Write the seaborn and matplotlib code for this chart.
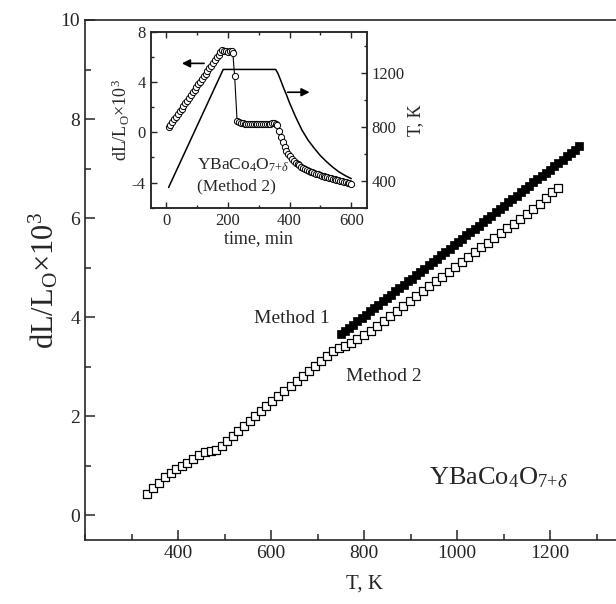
import matplotlib
matplotlib.use("Agg")
import matplotlib.pyplot as plt
from matplotlib.ticker import MultipleLocator
import seaborn as sns
import pandas as pd

# ---------------- data ----------------
# Method 1 (filled squares)
T1 = [750, 759, 768, 777, 786, 795, 804, 813, 822, 831, 840, 849, 858, 867, 876, 885,
      894, 903, 912, 921, 930, 939, 948, 957, 966, 975, 984, 993, 1002, 1011, 1020, 1029,
      1038, 1047, 1056, 1065, 1074, 1083, 1092, 1101, 1110, 1119, 1128, 1137, 1146, 1155,
      1164, 1173, 1182, 1191, 1200, 1209, 1218, 1227, 1236, 1245, 1254, 1263]
D1 = [3.65, 3.72, 3.78, 3.85, 3.92, 3.98, 4.05, 4.12, 4.18, 4.25, 4.32, 4.38, 4.45, 4.52,
      4.58, 4.65, 4.72, 4.78, 4.85, 4.92, 4.98, 5.05, 5.12, 5.18, 5.25, 5.32, 5.38, 5.45,
      5.52, 5.58, 5.65, 5.72, 5.78, 5.85, 5.92, 5.98, 6.05, 6.12, 6.18, 6.25, 6.32, 6.38,
      6.45, 6.52, 6.58, 6.65, 6.72, 6.78, 6.85, 6.92, 6.98, 7.05, 7.12, 7.18, 7.25, 7.32,
      7.38, 7.45]

# Method 2 (open squares)
T2 = [333, 347, 360, 372, 384, 396, 408, 420, 432, 445, 458, 470, 482, 494, 506, 518, 530,
      542, 554, 566, 578, 590, 603, 616, 629, 642, 655, 668, 681, 694, 707, 720, 733, 746,
      759, 772, 786, 800, 814, 828, 842, 856, 870, 884, 898, 912, 926, 940, 954, 968, 982,
      996, 1010, 1024, 1038, 1052, 1066, 1080, 1094, 1108, 1122, 1136, 1150, 1164, 1178,
      1192, 1205, 1217]
D2 = [0.42, 0.55, 0.66, 0.77, 0.86, 0.93, 1.00, 1.06, 1.13, 1.21, 1.27, 1.29, 1.32, 1.40,
      1.50, 1.60, 1.70, 1.80, 1.90, 2.00, 2.10, 2.20, 2.30, 2.41, 2.51, 2.61, 2.71, 2.82,
      2.92, 3.02, 3.12, 3.22, 3.32, 3.38, 3.42, 3.47, 3.55, 3.64, 3.73, 3.83, 3.93, 4.03,
      4.13, 4.23, 4.33, 4.43, 4.53, 4.63, 4.72, 4.82, 4.92, 5.02, 5.11, 5.21, 5.31, 5.41,
      5.50, 5.60, 5.70, 5.80, 5.89, 5.98, 6.08, 6.18, 6.29, 6.41, 6.52, 6.60]

# Inset: dilatometry vs time (Method 2)
t_in = [8, 14, 20, 26, 32, 38, 44, 50, 56, 62, 68, 74, 80, 86, 92, 98, 104, 110, 116, 122,
        128, 134, 140, 146, 152, 158, 164, 170, 176, 182, 188, 194, 200, 206, 212, 216,
        222, 230, 236, 242, 248, 254, 260, 266, 272, 278, 284, 290, 296, 302, 308, 314,
        320, 326, 332, 338, 344, 350, 356, 360, 366, 372, 378, 384, 390, 396, 402, 408,
        414, 420, 426, 432, 438, 444, 450, 456, 462, 468, 474, 480, 486, 492, 498, 504,
        510, 516, 522, 528, 534, 540, 546, 552, 558, 564, 570, 576, 582, 588, 594, 600]
dl_in = [0.40, 0.62, 0.83, 1.04, 1.26, 1.47, 1.69, 1.90, 2.11, 2.33, 2.54, 2.76, 2.97, 3.18,
         3.40, 3.61, 3.83, 4.04, 4.25, 4.47, 4.68, 4.90, 5.11, 5.32, 5.54, 5.75, 5.97, 6.18,
         6.40, 6.60, 6.50, 6.45, 6.42, 6.45, 6.48, 6.35, 4.50, 0.90, 0.80, 0.75, 0.72, 0.70,
         0.70, 0.70, 0.70, 0.70, 0.70, 0.70, 0.70, 0.70, 0.70, 0.70, 0.70, 0.70, 0.70, 0.70,
         0.72, 0.72, 0.68, 0.55, 0.15, -0.35, -0.80, -1.15, -1.45, -1.70, -1.92, -2.10,
         -2.26, -2.40, -2.52, -2.63, -2.73, -2.82, -2.90, -2.98, -3.05, -3.12, -3.18, -3.24,
         -3.30, -3.35, -3.40, -3.45, -3.50, -3.54, -3.58, -3.62, -3.66, -3.70, -3.74, -3.78,
         -3.82, -3.86, -3.90, -3.94, -3.98, -4.02, -4.06, -4.10]

# Inset: temperature program
t_temp = [8, 185, 355, 362, 370, 380, 390, 400, 420, 440, 460, 480, 500, 520, 540, 560, 580, 600]
T_temp = [350, 1223, 1223, 1195, 1150, 1090, 1035, 975, 870, 775, 700, 640, 585, 540, 500,
          465, 438, 415]

# ---------------- style ----------------
sns.set_style("ticks")
plt.rcParams["font.family"] = ["Liberation Serif", "DejaVu Serif"]
plt.rcParams["mathtext.fontset"] = "custom"
plt.rcParams["mathtext.rm"] = "Liberation Serif"
plt.rcParams["mathtext.it"] = "Liberation Serif:italic"
plt.rcParams["mathtext.bf"] = "Liberation Serif:bold"
plt.rcParams["axes.unicode_minus"] = False
plt.rcParams["xtick.direction"] = "in"
plt.rcParams["ytick.direction"] = "in"
plt.rcParams["axes.linewidth"] = 1.2

fig = plt.figure(figsize=(6.16, 6.04), dpi=100)
ax = fig.add_axes([85 / 616, 64 / 604, 558 / 616, 520 / 604])

df1 = pd.DataFrame({"T": T1, "d": D1})
df2 = pd.DataFrame({"T": T2, "d": D2})
sns.scatterplot(data=df2, x="T", y="d", ax=ax, marker="s", s=30, facecolor="white",
                edgecolor="black", linewidth=0.9, zorder=3)
sns.scatterplot(data=df1, x="T", y="d", ax=ax, marker="s", s=38, color="black",
                edgecolor="black", linewidth=0.5, zorder=3)

ax.set_xlim(200, 1400)
ax.set_ylim(-0.5, 10)
ax.set_xticks([400, 600, 800, 1000, 1200])
ax.xaxis.set_minor_locator(MultipleLocator(100))
ax.yaxis.set_major_locator(MultipleLocator(2))
ax.yaxis.set_minor_locator(MultipleLocator(1))
ax.tick_params(which="major", length=7, width=1.1, labelsize=14, top=False, right=False)
ax.tick_params(which="minor", length=4, width=1.1, top=False, right=False)
ax.set_xlabel("T, K", fontsize=15, labelpad=9)
ax.set_ylabel(r"dL/L$_\mathrm{O}$$\times$10$^3$", fontsize=22, labelpad=0)

ax.text(727, 3.97, "Method 1", fontsize=14, ha="right", va="center")
ax.text(762, 2.8, "Method 2", fontsize=14, ha="left", va="center")
ax.text(940, 0.75, r"YBaCo$_4$O$_{7{+}\delta}$", fontsize=19, ha="left", va="center")

# ---------------- inset ----------------
axi = fig.add_axes([150.7 / 616, (604 - 207.7) / 604, 216 / 616, 175.7 / 604])
dfi = pd.DataFrame({"t": t_in, "dl": dl_in})
sns.lineplot(data=dfi, x="t", y="dl", ax=axi, color="black", linewidth=0.8, sort=False)
sns.scatterplot(data=dfi, x="t", y="dl", ax=axi, marker="o", s=20, facecolor="white",
                edgecolor="black", linewidth=0.7, zorder=3)
axi.set_xlim(-50, 650)
axi.set_ylim(-6, 8)
axi.xaxis.set_major_locator(MultipleLocator(200))
axi.xaxis.set_minor_locator(MultipleLocator(100))
axi.yaxis.set_major_locator(MultipleLocator(4))
axi.yaxis.set_minor_locator(MultipleLocator(2))
axi.tick_params(which="major", length=4, width=1.0, labelsize=12, top=True)
axi.tick_params(which="minor", length=2.5, width=1.0, top=True)
axi.set_xlabel("time, min", fontsize=13, labelpad=1)
axi.set_ylabel(r"dL/L$_\mathrm{O}$$\times$10$^3$", fontsize=13, labelpad=0)

ax2 = axi.twinx()
dft = pd.DataFrame({"t": t_temp, "T": T_temp})
sns.lineplot(data=dft, x="t", y="T", ax=ax2, color="black", linewidth=1.1, sort=False)
ax2.set_ylim(200, 1500)
ax2.set_yticks([400, 800, 1200])
ax2.yaxis.set_minor_locator(MultipleLocator(200))
ax2.tick_params(which="major", length=4, width=1.0, labelsize=12, direction="in")
ax2.tick_params(which="minor", length=2.5, width=1.0, direction="in")
ax2.set_ylabel("T, K", fontsize=13, labelpad=2)
ax2.set_xlabel("")
for sp in list(axi.spines.values()) + list(ax2.spines.values()):
    sp.set_linewidth(1.1)

axi.annotate("", xy=(42, 5.5), xytext=(132, 5.5),
             arrowprops=dict(arrowstyle="-|>", color="black", lw=1.2, mutation_scale=12))
axi.annotate("", xy=(474, 3.2), xytext=(385, 3.2),
             arrowprops=dict(arrowstyle="-|>", color="black", lw=1.2, mutation_scale=12))
axi.text(100, -2.6, r"YBaCo$_4$O$_{7{+}\delta}$", fontsize=12.5, ha="left", va="center")
axi.text(100, -4.3, "(Method 2)", fontsize=12.5, ha="left", va="center")

fig.savefig("out.png", dpi=100)
